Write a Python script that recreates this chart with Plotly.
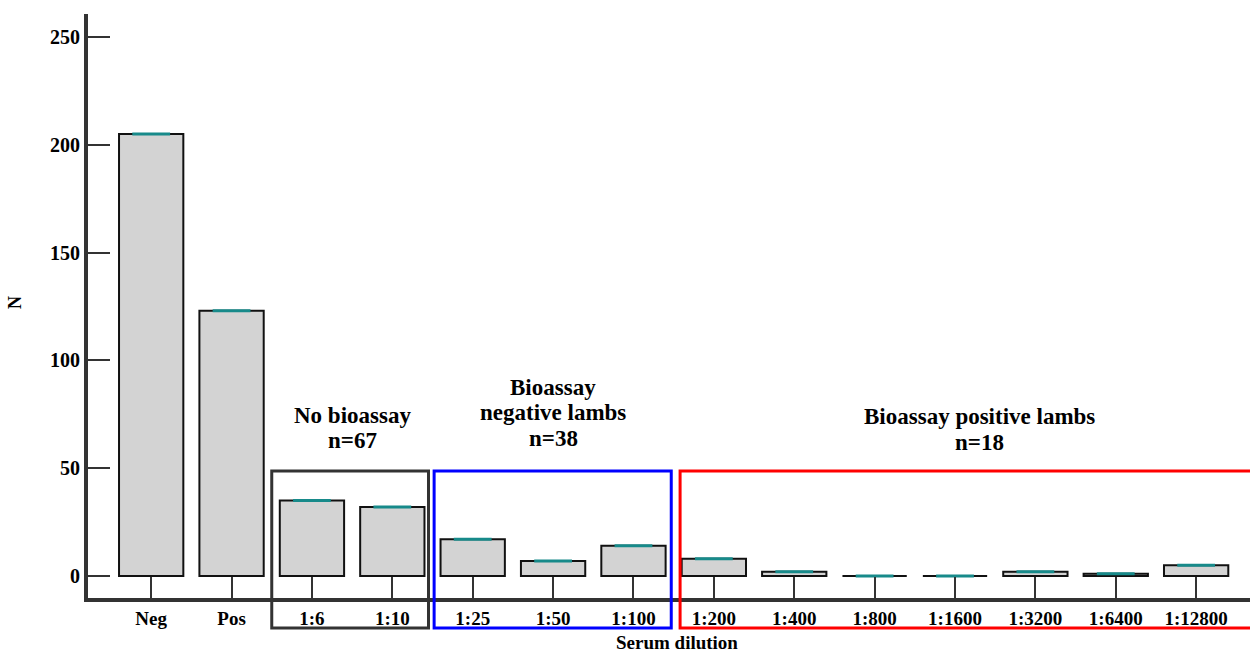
import plotly.graph_objects as go

categories = ["Neg", "Pos", "1:6", "1:10", "1:25", "1:50", "1:100", "1:200", "1:400",
              "1:800", "1:1600", "1:3200", "1:6400", "1:12800"]
counts = [205, 123, 35, 32, 17, 7, 14, 8, 2, 0, 0, 2, 1, 5]

group_lines = [["No bioassay", "n=67"],
               ["Bioassay", "negative lambs", "n=38"],
               ["Bioassay positive lambs", "n=18"]]
group_first = ["1:6", "1:25", "1:200"]
group_last = ["1:10", "1:100", "1:12800"]
group_colors = ["#333333", "#0000ff", "#ff0000"]

XMIN, XMAX = -0.786, 13.67
YMIN, YMAX = -10.2, 260.7
FONT = "Liberation Serif"
PLOT_W, PLOT_H = 1162, 584  # plot area size in px

fig = go.Figure()
fig.add_trace(go.Bar(x=categories, y=counts, width=0.8,
                     marker=dict(color="#d3d3d3", line=dict(color="#111111", width=2)),
                     showlegend=False))
fig.add_trace(go.Scatter(x=categories, y=counts, mode="markers",
                         marker=dict(symbol="line-ew", size=27,
                                     line=dict(color="#178a8a", width=3)),
                         showlegend=False, cliponaxis=False))

def px(v):
    return (v - XMIN) / (XMAX - XMIN)

def py(pix):
    # pixel offset from top of the plot area -> paper y
    return (PLOT_H - pix) / PLOT_H

left_pad = [0.5, 0.48, 0.42]
right_pad = [0.45, 0.47, 1.5]
text_x = [2.5, 5.0, 10.3]
first_line_pix = [401, 373, 403]   # px from plot top of first text line centre
line_step = 25.5
for i in range(3):
    a = categories.index(group_first[i])
    b = categories.index(group_last[i])
    fig.add_shape(type="rect", xref="paper", yref="paper",
                  x0=px(a - left_pad[i]), x1=px(b + right_pad[i]),
                  y0=py(614), y1=py(457),
                  line=dict(color=group_colors[i], width=3), fillcolor="rgba(0,0,0,0)")
    for j, line in enumerate(group_lines[i]):
        fig.add_annotation(x=text_x[i], xref="x",
                           y=py(first_line_pix[i] + j * line_step), yref="paper",
                           text="<b>" + line + "</b>", showarrow=False,
                           font=dict(family=FONT, size=23, color="black"),
                           xanchor="center", yanchor="middle", align="center")

fig.add_annotation(x=-73 / PLOT_W, xref="paper", y=py(289), yref="paper",
                   text="<b>N</b>", showarrow=False, textangle=-90,
                   font=dict(family=FONT, size=18, color="black"),
                   xanchor="center", yanchor="middle")
fig.add_annotation(x=589 / PLOT_W, xref="paper", y=py(628), yref="paper",
                   text="<b>Serum dilution</b>", showarrow=False,
                   font=dict(family=FONT, size=19, color="black"),
                   xanchor="center", yanchor="middle")

fig.update_layout(
    width=1250, height=653,
    margin=dict(l=88, r=0, t=14, b=55),
    plot_bgcolor="white", paper_bgcolor="white",
    xaxis=dict(range=[XMIN, XMAX], showgrid=False, zeroline=False,
               showline=True, linecolor="#333333", linewidth=4,
               ticks="inside", ticklen=21, tickwidth=2, tickcolor="#333333",
               tickfont=dict(family=FONT, size=19, color="black", weight="bold")),
    yaxis=dict(range=[YMIN, YMAX], showgrid=False, zeroline=False,
               showline=True, linecolor="#333333", linewidth=4,
               ticks="inside", ticklen=22, tickwidth=2, tickcolor="#333333",
               tickvals=[0, 50, 100, 150, 200, 250],
               tickfont=dict(family=FONT, size=20, color="black", weight="bold")),
    bargap=0.2,
)

fig.write_html("out.html", config={"displayModeBar": False},
               post_script="document.body.style.margin='0';document.body.style.overflow='hidden';")
